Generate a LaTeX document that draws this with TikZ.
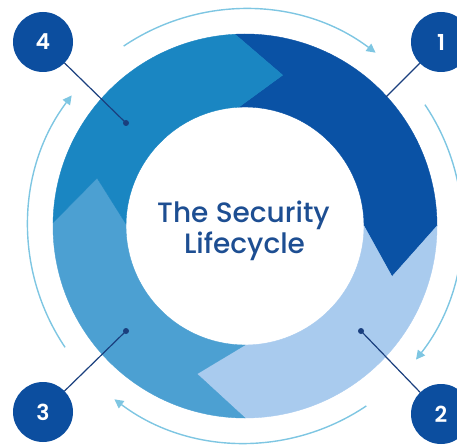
\documentclass[tikz,border=0pt]{standalone}
\usepackage{fontspec}
\setmainfont{Poppins}
\newfontfamily\titlefont{Poppins Medium}
\newfontfamily\numfont{Poppins SemiBold}
\usetikzlibrary{arrows.meta}
\definecolor{segA}{HTML}{0A52A5}
\definecolor{segB}{HTML}{A9CBEE}
\definecolor{segC}{HTML}{4CA0D2}
\definecolor{segD}{HTML}{1A86C2}
\definecolor{navy}{HTML}{0C4E9F}
\definecolor{linecol}{HTML}{1A3F7E}
\definecolor{arccol}{HTML}{7EC6E2}
\definecolor{titlecol}{HTML}{1D4E92}
\begin{document}
\begin{tikzpicture}[x=1pt,y=1pt,
  seg/.style={line width=0.4pt},
  numcirc/.style={circle, fill=navy, minimum size=60pt, inner sep=0pt, text=white, font=\numfont\fontsize{22}{22}\selectfont},
  conn/.style={draw=linecol, line width=1.2pt},
  dotmark/.style={circle, fill=linecol, minimum size=6pt, inner sep=0pt},
  cyc/.style={draw=arccol, line width=1.4pt, -{Triangle[length=9pt,width=9pt]}},
  title/.style={text=titlecol, font=\titlefont\fontsize{28}{28}\selectfont, anchor=base}
]
\useasboundingbox (0,0) rectangle (457,445);
\clip (0,0) rectangle (457,445);
\coordinate (ctr) at (245,219);
\begin{scope}[shift={(245,219)}]
 \def\Ro{192}\def\Ri{119}\def\Rm{155.5}
 % segment 1
 \fill[segA, draw=segA, seg] (93:\Ro) arc[start angle=93,end angle=0,radius=\Ro] -- (-19:\Rm) -- (0:\Ri) arc[start angle=0,end angle=93,radius=\Ri] -- (76:\Rm) -- cycle;
 % segment 2
 \fill[segB, draw=segB, seg] (360:\Ro) arc[start angle=360,end angle=270,radius=\Ro] -- (252:\Rm) -- (270:\Ri) arc[start angle=270,end angle=360,radius=\Ri] -- (341:\Rm) -- cycle;
 % segment 3
 \fill[segC, draw=segC, seg] (270:\Ro) arc[start angle=270,end angle=179,radius=\Ro] -- (162:\Rm) -- (179:\Ri) arc[start angle=179,end angle=270,radius=\Ri] -- (252:\Rm) -- cycle;
 % segment 4
 \fill[segD, draw=segD, seg] (179:\Ro) arc[start angle=179,end angle=93,radius=\Ro] -- (76:\Rm) -- (93:\Ri) arc[start angle=93,end angle=179,radius=\Ri] -- (162:\Rm) -- cycle;
 % cycle arrows
 \draw[cyc] (124:217) arc[start angle=124,end angle=53,radius=217];
 \draw[cyc] (34:217) arc[start angle=34,end angle=-38,radius=217];
 \draw[cyc] (-56:217) arc[start angle=-56,end angle=-127,radius=217];
 \draw[cyc] (214:217) arc[start angle=214,end angle=143,radius=217];
\end{scope}
% title
\node[title] (t1) at (243.5,223) {The Security};
\node[title] (t2) at (244.5,192) {Lifecycle};
% numbered circles
\node[numcirc] (n4) at (43,403) {4};
\node[numcirc] (n1) at (441,403) {1};
\node[numcirc] (n3) at (43,33) {3};
\node[numcirc] (n2) at (441,31) {2};
% dots
\node[dotmark] (d4) at (126,322) {};
\node[dotmark] (d3) at (126,114) {};
\node[dotmark] (d2) at (361,114) {};
\coordinate (e1) at (386,348);
% connectors
\draw[conn] (n4) -- (d4.center);
\draw[conn] (n3) -- (d3.center);
\draw[conn] (n2) -- (d2.center);
\draw[conn] (n1) -- (e1);
\end{tikzpicture}
\end{document}
